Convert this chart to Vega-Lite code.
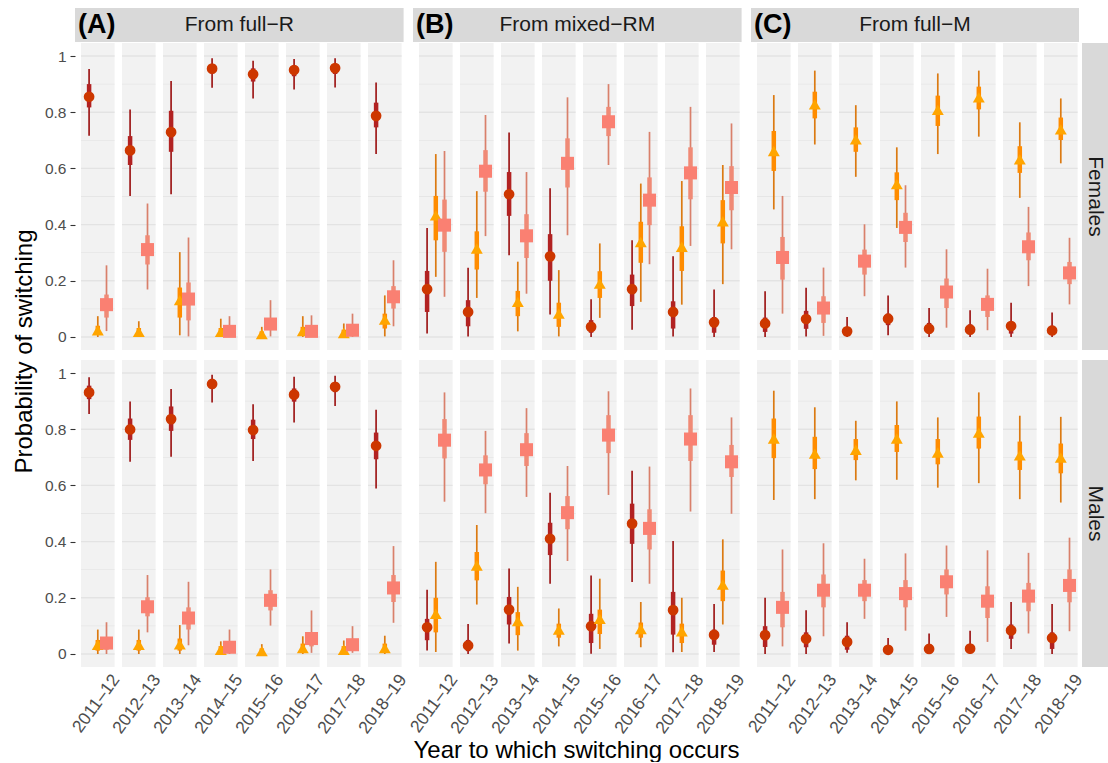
{
"$schema": "https://vega.github.io/schema/vega-lite/v6.json",
"padding": {"left": 12, "top": 8, "right": 0, "bottom": 0},
"background": "white",
"config": {"view": {"stroke": null}, "font": "Liberation Sans"},
"columns": 4,
"align": "each",
"bounds": "flush",
"spacing": {"row": 1, "column": 3},
"datasets": {
"years": [{"yr":"2011–12"},{"yr":"2012–13"},{"yr":"2013–14"},{"yr":"2014–15"},{"yr":"2015–16"},{"yr":"2016–17"},{"yr":"2017–18"},{"yr":"2018–19"}],
"grid": [
{"yr":["2011–12","2012–13","2013–14","2014–15","2015–16","2016–17","2017–18","2018–19"],"g":[0,0.2,0.4,0.6,0.8,1],"k":"maj"},
{"yr":["2011–12","2012–13","2013–14","2014–15","2015–16","2016–17","2017–18","2018–19"],"g":[0.1,0.3,0.5,0.7,0.9],"k":"min"}
],
"pts": [
{"f":"R","s":"F","yr":"2011–12","t":"R","e":0.855,"l1":0.817,"h1":0.900,"l2":0.716,"h2":0.954},
{"f":"R","s":"F","yr":"2011–12","t":"RM","e":0.024,"l1":0.010,"h1":0.040,"l2":0,"h2":0.074},
{"f":"R","s":"F","yr":"2011–12","t":"M","e":0.115,"l1":0.069,"h1":0.151,"l2":0.021,"h2":0.255},
{"f":"R","s":"F","yr":"2012–13","t":"R","e":0.664,"l1":0.612,"h1":0.715,"l2":0.502,"h2":0.810},
{"f":"R","s":"F","yr":"2012–13","t":"RM","e":0.018,"l1":0.007,"h1":0.032,"l2":0,"h2":0.056},
{"f":"R","s":"F","yr":"2012–13","t":"M","e":0.311,"l1":0.258,"h1":0.362,"l2":0.169,"h2":0.475},
{"f":"R","s":"F","yr":"2013–14","t":"R","e":0.729,"l1":0.659,"h1":0.805,"l2":0.508,"h2":0.911},
{"f":"R","s":"F","yr":"2013–14","t":"RM","e":0.131,"l1":0.069,"h1":0.176,"l2":0.006,"h2":0.302},
{"f":"R","s":"F","yr":"2013–14","t":"M","e":0.135,"l1":0.059,"h1":0.194,"l2":0.002,"h2":0.354},
{"f":"R","s":"F","yr":"2014–15","t":"R","e":0.955,"l1":0.938,"h1":0.968,"l2":0.887,"h2":0.992},
{"f":"R","s":"F","yr":"2014–15","t":"RM","e":0.018,"l1":0.007,"h1":0.032,"l2":0,"h2":0.065},
{"f":"R","s":"F","yr":"2014–15","t":"M","e":0.020,"l1":0.008,"h1":0.036,"l2":0,"h2":0.074},
{"f":"R","s":"F","yr":"2015–16","t":"R","e":0.935,"l1":0.909,"h1":0.956,"l2":0.849,"h2":0.983},
{"f":"R","s":"F","yr":"2015–16","t":"RM","e":0.010,"l1":0.003,"h1":0.020,"l2":0,"h2":0.036},
{"f":"R","s":"F","yr":"2015–16","t":"M","e":0.046,"l1":0.026,"h1":0.065,"l2":0.002,"h2":0.131},
{"f":"R","s":"F","yr":"2016–17","t":"R","e":0.950,"l1":0.928,"h1":0.966,"l2":0.881,"h2":0.989},
{"f":"R","s":"F","yr":"2016–17","t":"RM","e":0.021,"l1":0.008,"h1":0.036,"l2":0,"h2":0.074},
{"f":"R","s":"F","yr":"2016–17","t":"M","e":0.020,"l1":0.008,"h1":0.036,"l2":0,"h2":0.077},
{"f":"R","s":"F","yr":"2017–18","t":"R","e":0.957,"l1":0.936,"h1":0.970,"l2":0.888,"h2":0.992},
{"f":"R","s":"F","yr":"2017–18","t":"RM","e":0.014,"l1":0.005,"h1":0.026,"l2":0,"h2":0.048},
{"f":"R","s":"F","yr":"2017–18","t":"M","e":0.024,"l1":0.010,"h1":0.040,"l2":0,"h2":0.083},
{"f":"R","s":"F","yr":"2018–19","t":"R","e":0.787,"l1":0.746,"h1":0.834,"l2":0.651,"h2":0.906},
{"f":"R","s":"F","yr":"2018–19","t":"RM","e":0.062,"l1":0.030,"h1":0.083,"l2":0.002,"h2":0.148},
{"f":"R","s":"F","yr":"2018–19","t":"M","e":0.143,"l1":0.101,"h1":0.181,"l2":0.038,"h2":0.273},
{"f":"RM","s":"F","yr":"2011–12","t":"R","e":0.170,"l1":0.089,"h1":0.235,"l2":0.012,"h2":0.388},
{"f":"RM","s":"F","yr":"2011–12","t":"RM","e":0.433,"l1":0.344,"h1":0.502,"l2":0.214,"h2":0.651},
{"f":"RM","s":"F","yr":"2011–12","t":"M","e":0.398,"l1":0.303,"h1":0.489,"l2":0.143,"h2":0.662},
{"f":"RM","s":"F","yr":"2012–13","t":"R","e":0.089,"l1":0.038,"h1":0.131,"l2":0.002,"h2":0.246},
{"f":"RM","s":"F","yr":"2012–13","t":"RM","e":0.315,"l1":0.240,"h1":0.376,"l2":0.139,"h2":0.519},
{"f":"RM","s":"F","yr":"2012–13","t":"M","e":0.590,"l1":0.517,"h1":0.665,"l2":0.359,"h2":0.790},
{"f":"RM","s":"F","yr":"2013–14","t":"R","e":0.508,"l1":0.431,"h1":0.587,"l2":0.291,"h2":0.728},
{"f":"RM","s":"F","yr":"2013–14","t":"RM","e":0.125,"l1":0.074,"h1":0.164,"l2":0.020,"h2":0.268},
{"f":"RM","s":"F","yr":"2013–14","t":"M","e":0.360,"l1":0.281,"h1":0.437,"l2":0.154,"h2":0.587},
{"f":"RM","s":"F","yr":"2014–15","t":"R","e":0.287,"l1":0.200,"h1":0.366,"l2":0.080,"h2":0.529},
{"f":"RM","s":"F","yr":"2014–15","t":"RM","e":0.083,"l1":0.036,"h1":0.122,"l2":0.002,"h2":0.238},
{"f":"RM","s":"F","yr":"2014–15","t":"M","e":0.618,"l1":0.532,"h1":0.707,"l2":0.362,"h2":0.853},
{"f":"RM","s":"F","yr":"2015–16","t":"R","e":0.036,"l1":0.015,"h1":0.060,"l2":0,"h2":0.134},
{"f":"RM","s":"F","yr":"2015–16","t":"RM","e":0.190,"l1":0.139,"h1":0.234,"l2":0.068,"h2":0.333},
{"f":"RM","s":"F","yr":"2015–16","t":"M","e":0.766,"l1":0.715,"h1":0.819,"l2":0.612,"h2":0.900},
{"f":"RM","s":"F","yr":"2016–17","t":"R","e":0.170,"l1":0.110,"h1":0.222,"l2":0.026,"h2":0.344},
{"f":"RM","s":"F","yr":"2016–17","t":"RM","e":0.338,"l1":0.264,"h1":0.410,"l2":0.125,"h2":0.546},
{"f":"RM","s":"F","yr":"2016–17","t":"M","e":0.487,"l1":0.398,"h1":0.568,"l2":0.259,"h2":0.730},
{"f":"RM","s":"F","yr":"2017–18","t":"R","e":0.089,"l1":0.030,"h1":0.127,"l2":0.002,"h2":0.287},
{"f":"RM","s":"F","yr":"2017–18","t":"RM","e":0.321,"l1":0.235,"h1":0.394,"l2":0.115,"h2":0.555},
{"f":"RM","s":"F","yr":"2017–18","t":"M","e":0.584,"l1":0.490,"h1":0.675,"l2":0.324,"h2":0.819},
{"f":"RM","s":"F","yr":"2018–19","t":"R","e":0.052,"l1":0.015,"h1":0.071,"l2":0,"h2":0.169},
{"f":"RM","s":"F","yr":"2018–19","t":"RM","e":0.412,"l1":0.333,"h1":0.487,"l2":0.188,"h2":0.612},
{"f":"RM","s":"F","yr":"2018–19","t":"M","e":0.532,"l1":0.451,"h1":0.608,"l2":0.312,"h2":0.760},
{"f":"M","s":"F","yr":"2011–12","t":"R","e":0.048,"l1":0.018,"h1":0.069,"l2":0,"h2":0.163},
{"f":"M","s":"F","yr":"2011–12","t":"RM","e":0.662,"l1":0.591,"h1":0.733,"l2":0.454,"h2":0.861},
{"f":"M","s":"F","yr":"2011–12","t":"M","e":0.283,"l1":0.204,"h1":0.356,"l2":0.083,"h2":0.502},
{"f":"M","s":"F","yr":"2012–13","t":"R","e":0.064,"l1":0.029,"h1":0.093,"l2":0.002,"h2":0.175},
{"f":"M","s":"F","yr":"2012–13","t":"RM","e":0.828,"l1":0.778,"h1":0.873,"l2":0.685,"h2":0.948},
{"f":"M","s":"F","yr":"2012–13","t":"M","e":0.103,"l1":0.050,"h1":0.145,"l2":0.004,"h2":0.247},
{"f":"M","s":"F","yr":"2013–14","t":"R","e":0.020,"l1":0.008,"h1":0.035,"l2":0,"h2":0.071},
{"f":"M","s":"F","yr":"2013–14","t":"RM","e":0.703,"l1":0.659,"h1":0.746,"l2":0.570,"h2":0.825},
{"f":"M","s":"F","yr":"2013–14","t":"M","e":0.270,"l1":0.222,"h1":0.311,"l2":0.145,"h2":0.401},
{"f":"M","s":"F","yr":"2014–15","t":"R","e":0.065,"l1":0.042,"h1":0.083,"l2":0.006,"h2":0.148},
{"f":"M","s":"F","yr":"2014–15","t":"RM","e":0.544,"l1":0.487,"h1":0.586,"l2":0.388,"h2":0.675},
{"f":"M","s":"F","yr":"2014–15","t":"M","e":0.390,"l1":0.338,"h1":0.442,"l2":0.247,"h2":0.540},
{"f":"M","s":"F","yr":"2015–16","t":"R","e":0.029,"l1":0.012,"h1":0.050,"l2":0,"h2":0.103},
{"f":"M","s":"F","yr":"2015–16","t":"RM","e":0.808,"l1":0.751,"h1":0.859,"l2":0.651,"h2":0.938},
{"f":"M","s":"F","yr":"2015–16","t":"M","e":0.160,"l1":0.103,"h1":0.208,"l2":0.033,"h2":0.312},
{"f":"M","s":"F","yr":"2016–17","t":"R","e":0.026,"l1":0.010,"h1":0.045,"l2":0,"h2":0.095},
{"f":"M","s":"F","yr":"2016–17","t":"RM","e":0.853,"l1":0.810,"h1":0.891,"l2":0.713,"h2":0.948},
{"f":"M","s":"F","yr":"2016–17","t":"M","e":0.116,"l1":0.071,"h1":0.148,"l2":0.024,"h2":0.243},
{"f":"M","s":"F","yr":"2017–18","t":"R","e":0.039,"l1":0.012,"h1":0.055,"l2":0,"h2":0.122},
{"f":"M","s":"F","yr":"2017–18","t":"RM","e":0.632,"l1":0.584,"h1":0.679,"l2":0.495,"h2":0.764},
{"f":"M","s":"F","yr":"2017–18","t":"M","e":0.321,"l1":0.273,"h1":0.372,"l2":0.181,"h2":0.463},
{"f":"M","s":"F","yr":"2018–19","t":"R","e":0.023,"l1":0.009,"h1":0.040,"l2":0,"h2":0.087},
{"f":"M","s":"F","yr":"2018–19","t":"RM","e":0.739,"l1":0.701,"h1":0.781,"l2":0.618,"h2":0.849},
{"f":"M","s":"F","yr":"2018–19","t":"M","e":0.228,"l1":0.188,"h1":0.267,"l2":0.116,"h2":0.353},
{"f":"R","s":"M","yr":"2011–12","t":"R","e":0.931,"l1":0.907,"h1":0.955,"l2":0.854,"h2":0.985},
{"f":"R","s":"M","yr":"2011–12","t":"RM","e":0.033,"l1":0.012,"h1":0.050,"l2":0,"h2":0.087},
{"f":"R","s":"M","yr":"2011–12","t":"M","e":0.039,"l1":0.015,"h1":0.057,"l2":0,"h2":0.113},
{"f":"R","s":"M","yr":"2012–13","t":"R","e":0.799,"l1":0.762,"h1":0.838,"l2":0.684,"h2":0.899},
{"f":"R","s":"M","yr":"2012–13","t":"RM","e":0.033,"l1":0.012,"h1":0.050,"l2":0,"h2":0.087},
{"f":"R","s":"M","yr":"2012–13","t":"M","e":0.168,"l1":0.134,"h1":0.202,"l2":0.077,"h2":0.281},
{"f":"R","s":"M","yr":"2013–14","t":"R","e":0.836,"l1":0.794,"h1":0.881,"l2":0.702,"h2":0.943},
{"f":"R","s":"M","yr":"2013–14","t":"RM","e":0.034,"l1":0.012,"h1":0.055,"l2":0,"h2":0.103},
{"f":"R","s":"M","yr":"2013–14","t":"M","e":0.128,"l1":0.087,"h1":0.166,"l2":0.031,"h2":0.257},
{"f":"R","s":"M","yr":"2014–15","t":"R","e":0.961,"l1":0.945,"h1":0.975,"l2":0.895,"h2":0.994},
{"f":"R","s":"M","yr":"2014–15","t":"RM","e":0.015,"l1":0.005,"h1":0.028,"l2":0,"h2":0.045},
{"f":"R","s":"M","yr":"2014–15","t":"M","e":0.024,"l1":0.006,"h1":0.045,"l2":0,"h2":0.087},
{"f":"R","s":"M","yr":"2015–16","t":"R","e":0.797,"l1":0.765,"h1":0.834,"l2":0.687,"h2":0.889},
{"f":"R","s":"M","yr":"2015–16","t":"RM","e":0.010,"l1":0.003,"h1":0.020,"l2":0,"h2":0.035},
{"f":"R","s":"M","yr":"2015–16","t":"M","e":0.191,"l1":0.155,"h1":0.227,"l2":0.101,"h2":0.301},
{"f":"R","s":"M","yr":"2016–17","t":"R","e":0.923,"l1":0.898,"h1":0.945,"l2":0.824,"h2":0.987},
{"f":"R","s":"M","yr":"2016–17","t":"RM","e":0.021,"l1":0.008,"h1":0.037,"l2":0,"h2":0.063},
{"f":"R","s":"M","yr":"2016–17","t":"M","e":0.055,"l1":0.027,"h1":0.077,"l2":0.004,"h2":0.155},
{"f":"R","s":"M","yr":"2017–18","t":"R","e":0.951,"l1":0.932,"h1":0.968,"l2":0.883,"h2":0.990},
{"f":"R","s":"M","yr":"2017–18","t":"RM","e":0.015,"l1":0.005,"h1":0.028,"l2":0,"h2":0.048},
{"f":"R","s":"M","yr":"2017–18","t":"M","e":0.033,"l1":0.012,"h1":0.050,"l2":0.004,"h2":0.099},
{"f":"R","s":"M","yr":"2018–19","t":"R","e":0.741,"l1":0.693,"h1":0.788,"l2":0.589,"h2":0.869},
{"f":"R","s":"M","yr":"2018–19","t":"RM","e":0.021,"l1":0.008,"h1":0.037,"l2":0,"h2":0.065},
{"f":"R","s":"M","yr":"2018–19","t":"M","e":0.235,"l1":0.185,"h1":0.281,"l2":0.111,"h2":0.384},
{"f":"RM","s":"M","yr":"2011–12","t":"R","e":0.095,"l1":0.049,"h1":0.125,"l2":0.012,"h2":0.229},
{"f":"RM","s":"M","yr":"2011–12","t":"RM","e":0.143,"l1":0.077,"h1":0.200,"l2":0.007,"h2":0.328},
{"f":"RM","s":"M","yr":"2011–12","t":"M","e":0.761,"l1":0.696,"h1":0.836,"l2":0.542,"h2":0.931},
{"f":"RM","s":"M","yr":"2012–13","t":"R","e":0.030,"l1":0.010,"h1":0.050,"l2":0,"h2":0.107},
{"f":"RM","s":"M","yr":"2012–13","t":"RM","e":0.315,"l1":0.262,"h1":0.363,"l2":0.176,"h2":0.459},
{"f":"RM","s":"M","yr":"2012–13","t":"M","e":0.655,"l1":0.604,"h1":0.707,"l2":0.501,"h2":0.794},
{"f":"RM","s":"M","yr":"2013–14","t":"R","e":0.158,"l1":0.105,"h1":0.203,"l2":0.037,"h2":0.304},
{"f":"RM","s":"M","yr":"2013–14","t":"RM","e":0.117,"l1":0.067,"h1":0.149,"l2":0.012,"h2":0.239},
{"f":"RM","s":"M","yr":"2013–14","t":"M","e":0.727,"l1":0.669,"h1":0.786,"l2":0.559,"h2":0.875},
{"f":"RM","s":"M","yr":"2014–15","t":"R","e":0.410,"l1":0.352,"h1":0.467,"l2":0.250,"h2":0.574},
{"f":"RM","s":"M","yr":"2014–15","t":"RM","e":0.087,"l1":0.058,"h1":0.108,"l2":0.027,"h2":0.162},
{"f":"RM","s":"M","yr":"2014–15","t":"M","e":0.503,"l1":0.444,"h1":0.562,"l2":0.331,"h2":0.669},
{"f":"RM","s":"M","yr":"2015–16","t":"R","e":0.099,"l1":0.039,"h1":0.143,"l2":0.001,"h2":0.279},
{"f":"RM","s":"M","yr":"2015–16","t":"RM","e":0.125,"l1":0.071,"h1":0.158,"l2":0.018,"h2":0.268},
{"f":"RM","s":"M","yr":"2015–16","t":"M","e":0.779,"l1":0.715,"h1":0.850,"l2":0.566,"h2":0.935},
{"f":"RM","s":"M","yr":"2016–17","t":"R","e":0.464,"l1":0.392,"h1":0.535,"l2":0.256,"h2":0.652},
{"f":"RM","s":"M","yr":"2016–17","t":"RM","e":0.089,"l1":0.058,"h1":0.112,"l2":0.024,"h2":0.185},
{"f":"RM","s":"M","yr":"2016–17","t":"M","e":0.447,"l1":0.372,"h1":0.515,"l2":0.250,"h2":0.667},
{"f":"RM","s":"M","yr":"2017–18","t":"R","e":0.156,"l1":0.069,"h1":0.221,"l2":0.006,"h2":0.402},
{"f":"RM","s":"M","yr":"2017–18","t":"RM","e":0.081,"l1":0.039,"h1":0.108,"l2":0.007,"h2":0.200},
{"f":"RM","s":"M","yr":"2017–18","t":"M","e":0.765,"l1":0.687,"h1":0.850,"l2":0.507,"h2":0.945},
{"f":"RM","s":"M","yr":"2018–19","t":"R","e":0.068,"l1":0.033,"h1":0.087,"l2":0.007,"h2":0.178},
{"f":"RM","s":"M","yr":"2018–19","t":"RM","e":0.247,"l1":0.188,"h1":0.297,"l2":0.105,"h2":0.408},
{"f":"RM","s":"M","yr":"2018–19","t":"M","e":0.684,"l1":0.630,"h1":0.744,"l2":0.499,"h2":0.842},
{"f":"M","s":"M","yr":"2011–12","t":"R","e":0.067,"l1":0.025,"h1":0.099,"l2":0,"h2":0.200},
{"f":"M","s":"M","yr":"2011–12","t":"RM","e":0.767,"l1":0.697,"h1":0.838,"l2":0.548,"h2":0.937},
{"f":"M","s":"M","yr":"2011–12","t":"M","e":0.166,"l1":0.095,"h1":0.221,"l2":0.027,"h2":0.372},
{"f":"M","s":"M","yr":"2012–13","t":"R","e":0.054,"l1":0.024,"h1":0.077,"l2":0,"h2":0.156},
{"f":"M","s":"M","yr":"2012–13","t":"RM","e":0.713,"l1":0.658,"h1":0.773,"l2":0.551,"h2":0.878},
{"f":"M","s":"M","yr":"2012–13","t":"M","e":0.227,"l1":0.166,"h1":0.283,"l2":0.063,"h2":0.394},
{"f":"M","s":"M","yr":"2013–14","t":"R","e":0.043,"l1":0.015,"h1":0.065,"l2":0.004,"h2":0.113},
{"f":"M","s":"M","yr":"2013–14","t":"RM","e":0.727,"l1":0.690,"h1":0.765,"l2":0.618,"h2":0.830},
{"f":"M","s":"M","yr":"2013–14","t":"M","e":0.227,"l1":0.188,"h1":0.263,"l2":0.125,"h2":0.339},
{"f":"M","s":"M","yr":"2014–15","t":"R","e":0.015,"l1":0.005,"h1":0.030,"l2":0,"h2":0.057},
{"f":"M","s":"M","yr":"2014–15","t":"RM","e":0.767,"l1":0.719,"h1":0.815,"l2":0.620,"h2":0.899},
{"f":"M","s":"M","yr":"2014–15","t":"M","e":0.215,"l1":0.166,"h1":0.263,"l2":0.083,"h2":0.358},
{"f":"M","s":"M","yr":"2015–16","t":"R","e":0.018,"l1":0.006,"h1":0.035,"l2":0,"h2":0.073},
{"f":"M","s":"M","yr":"2015–16","t":"RM","e":0.717,"l1":0.675,"h1":0.765,"l2":0.592,"h2":0.842},
{"f":"M","s":"M","yr":"2015–16","t":"M","e":0.257,"l1":0.212,"h1":0.301,"l2":0.132,"h2":0.386},
{"f":"M","s":"M","yr":"2016–17","t":"R","e":0.019,"l1":0.006,"h1":0.035,"l2":0,"h2":0.083},
{"f":"M","s":"M","yr":"2016–17","t":"RM","e":0.788,"l1":0.731,"h1":0.845,"l2":0.608,"h2":0.931},
{"f":"M","s":"M","yr":"2016–17","t":"M","e":0.188,"l1":0.128,"h1":0.241,"l2":0.043,"h2":0.369},
{"f":"M","s":"M","yr":"2017–18","t":"R","e":0.084,"l1":0.054,"h1":0.105,"l2":0.018,"h2":0.185},
{"f":"M","s":"M","yr":"2017–18","t":"RM","e":0.707,"l1":0.655,"h1":0.756,"l2":0.551,"h2":0.848},
{"f":"M","s":"M","yr":"2017–18","t":"M","e":0.206,"l1":0.152,"h1":0.253,"l2":0.073,"h2":0.360},
{"f":"M","s":"M","yr":"2018–19","t":"R","e":0.057,"l1":0.018,"h1":0.077,"l2":0,"h2":0.178},
{"f":"M","s":"M","yr":"2018–19","t":"RM","e":0.699,"l1":0.643,"h1":0.749,"l2":0.539,"h2":0.844},
{"f":"M","s":"M","yr":"2018–19","t":"M","e":0.244,"l1":0.184,"h1":0.301,"l2":0.081,"h2":0.414}
]
},
"concat": [
{"width": 328.6, "height": 34, "view": {"fill": "#D9D9D9", "stroke": null},
 "data": {"values": [{"lab": "(A)", "nm": "From full−R"}]},
 "layer": [
  {"mark": {"type": "text", "fontSize": 21, "color": "#1A1A1A", "align": "center", "baseline": "middle"},
   "encoding": {"text": {"field": "nm", "type": "nominal"}, "x": {"datum": 0.5, "type": "quantitative", "scale": {"domain": [0, 1]}, "axis": null}}},
  {"mark": {"type": "text", "fontSize": 27, "fontWeight": "bold", "color": "#000000", "align": "left", "baseline": "middle", "dx": 3},
   "encoding": {"text": {"field": "lab", "type": "nominal"}, "x": {"datum": 0, "type": "quantitative", "scale": {"domain": [0, 1]}, "axis": null}}}
 ]},
{"width": 328.6, "height": 34, "view": {"fill": "#D9D9D9", "stroke": null},
 "data": {"values": [{"lab": "(B)", "nm": "From mixed−RM"}]},
 "layer": [
  {"mark": {"type": "text", "fontSize": 21, "color": "#1A1A1A", "align": "center", "baseline": "middle"},
   "encoding": {"text": {"field": "nm", "type": "nominal"}, "x": {"datum": 0.5, "type": "quantitative", "scale": {"domain": [0, 1]}, "axis": null}}},
  {"mark": {"type": "text", "fontSize": 27, "fontWeight": "bold", "color": "#000000", "align": "left", "baseline": "middle", "dx": 3},
   "encoding": {"text": {"field": "lab", "type": "nominal"}, "x": {"datum": 0, "type": "quantitative", "scale": {"domain": [0, 1]}, "axis": null}}}
 ]},
{"width": 328, "height": 34, "view": {"fill": "#D9D9D9", "stroke": null},
 "data": {"values": [{"lab": "(C)", "nm": "From full−M"}]},
 "layer": [
  {"mark": {"type": "text", "fontSize": 21, "color": "#1A1A1A", "align": "center", "baseline": "middle"},
   "encoding": {"text": {"field": "nm", "type": "nominal"}, "x": {"datum": 0.5, "type": "quantitative", "scale": {"domain": [0, 1]}, "axis": null}}},
  {"mark": {"type": "text", "fontSize": 27, "fontWeight": "bold", "color": "#000000", "align": "left", "baseline": "middle", "dx": 3},
   "encoding": {"text": {"field": "lab", "type": "nominal"}, "x": {"datum": 0, "type": "quantitative", "scale": {"domain": [0, 1]}, "axis": null}}}
 ]},
{"width": 26, "height": 34, "view": {"stroke": null}, "data": {"values": [{}]}, "mark": {"type": "text"}, "encoding": {"text": {"value": ""}}},

{"width": 334.6, "height": 316,
 "encoding": {"x": {"field": "yr", "type": "nominal", "scale": {"paddingInner": 0.1805, "paddingOuter": 0.1707, "align": 0.4286}, "axis": null}},
 "layer": [
  {"data": {"name": "years"}, "mark": {"type": "rect", "color": "#F2F2F2"},
   "encoding": {"y": {"datum": -0.0463, "type": "quantitative", "scale": {"domain": [-0.0784, 1.0463], "nice": false, "zero": false},
     "axis": {"values": [0, 0.2, 0.4, 0.6, 0.8, 1], "format": "~g", "grid": false, "domain": false, "tickSize": 5, "tickColor": "#333333", "tickWidth": 1.1, "labelFontSize": 15.5, "labelColor": "#4D4D4D", "labelPadding": 4, "title": "Probability of switching", "titleFontSize": 24, "titleFontWeight": "normal", "titleColor": "#000000", "titlePadding": 8, "titleY": 308}}, "y2": {"datum": 1.0463}}},
  {"data": {"name": "grid"}, "transform": [{"flatten": ["yr"]}, {"flatten": ["g"]}, {"filter": "datum.k == 'min'"}],
   "mark": {"type": "tick", "orient": "horizontal", "color": "#E6E6E6", "thickness": 0.8, "size": 33.6, "opacity": 1},
   "encoding": {"y": {"field": "g", "type": "quantitative", "scale": {"domain": [-0.0784, 1.0463], "nice": false, "zero": false},
     "axis": {"values": [0, 0.2, 0.4, 0.6, 0.8, 1], "format": "~g", "grid": false, "domain": false, "tickSize": 5, "tickColor": "#333333", "tickWidth": 1.1, "labelFontSize": 15.5, "labelColor": "#4D4D4D", "labelPadding": 4, "title": "Probability of switching", "titleFontSize": 24, "titleFontWeight": "normal", "titleColor": "#000000", "titlePadding": 8, "titleY": 308}}}},
  {"data": {"name": "grid"}, "transform": [{"flatten": ["yr"]}, {"flatten": ["g"]}, {"filter": "datum.k == 'maj'"}],
   "mark": {"type": "tick", "orient": "horizontal", "color": "#E3E3E3", "thickness": 1.4, "size": 33.6, "opacity": 1},
   "encoding": {"y": {"field": "g", "type": "quantitative", "scale": {"domain": [-0.0784, 1.0463], "nice": false, "zero": false},
     "axis": {"values": [0, 0.2, 0.4, 0.6, 0.8, 1], "format": "~g", "grid": false, "domain": false, "tickSize": 5, "tickColor": "#333333", "tickWidth": 1.1, "labelFontSize": 15.5, "labelColor": "#4D4D4D", "labelPadding": 4, "title": "Probability of switching", "titleFontSize": 24, "titleFontWeight": "normal", "titleColor": "#000000", "titlePadding": 8, "titleY": 308}}}},
  {"data": {"name": "pts"}, "transform": [{"filter": "datum.f == 'R' && datum.s == 'F'"}],
   "mark": {"type": "rule", "strokeWidth": 1.7},
   "encoding": {"xOffset": {"field": "t", "type": "nominal", "scale": {"domain": ["R", "RM", "M"], "paddingOuter": 0.43, "paddingInner": 0}},
    "y": {"field": "l2", "type": "quantitative", "scale": {"domain": [-0.0784, 1.0463], "nice": false, "zero": false},
     "axis": {"values": [0, 0.2, 0.4, 0.6, 0.8, 1], "format": "~g", "grid": false, "domain": false, "tickSize": 5, "tickColor": "#333333", "tickWidth": 1.1, "labelFontSize": 15.5, "labelColor": "#4D4D4D", "labelPadding": 4, "title": "Probability of switching", "titleFontSize": 24, "titleFontWeight": "normal", "titleColor": "#000000", "titlePadding": 8, "titleY": 308}}, "y2": {"field": "h2"},
    "color": {"field": "t", "type": "nominal", "scale": {"domain": ["R", "RM", "M"], "range": ["#9E1A1A", "#DB7A12", "#D9806B"]}, "legend": null}}},
  {"data": {"name": "pts"}, "transform": [{"filter": "datum.f == 'R' && datum.s == 'F'"}],
   "mark": {"type": "rule", "strokeWidth": 4.5},
   "encoding": {"xOffset": {"field": "t", "type": "nominal", "scale": {"domain": ["R", "RM", "M"], "paddingOuter": 0.43, "paddingInner": 0}},
    "y": {"field": "l1", "type": "quantitative", "scale": {"domain": [-0.0784, 1.0463], "nice": false, "zero": false},
     "axis": {"values": [0, 0.2, 0.4, 0.6, 0.8, 1], "format": "~g", "grid": false, "domain": false, "tickSize": 5, "tickColor": "#333333", "tickWidth": 1.1, "labelFontSize": 15.5, "labelColor": "#4D4D4D", "labelPadding": 4, "title": "Probability of switching", "titleFontSize": 24, "titleFontWeight": "normal", "titleColor": "#000000", "titlePadding": 8, "titleY": 308}}, "y2": {"field": "h1"},
    "color": {"field": "t", "type": "nominal", "scale": {"domain": ["R", "RM", "M"], "range": ["#B22222", "#FF8C00", "#F08A76"]}, "legend": null}}},
  {"data": {"name": "pts"}, "transform": [{"filter": "datum.f == 'R' && datum.s == 'F'"}],
   "mark": {"type": "point", "filled": true, "opacity": 1, "strokeWidth": 0},
   "encoding": {"xOffset": {"field": "t", "type": "nominal", "scale": {"domain": ["R", "RM", "M"], "paddingOuter": 0.43, "paddingInner": 0}},
    "y": {"field": "e", "type": "quantitative", "scale": {"domain": [-0.0784, 1.0463], "nice": false, "zero": false},
     "axis": {"values": [0, 0.2, 0.4, 0.6, 0.8, 1], "format": "~g", "grid": false, "domain": false, "tickSize": 5, "tickColor": "#333333", "tickWidth": 1.1, "labelFontSize": 15.5, "labelColor": "#4D4D4D", "labelPadding": 4, "title": "Probability of switching", "titleFontSize": 24, "titleFontWeight": "normal", "titleColor": "#000000", "titlePadding": 8, "titleY": 308}},
    "color": {"field": "t", "type": "nominal", "scale": {"domain": ["R", "RM", "M"], "range": ["#CD3700", "#FFA500", "#FA8072"]}, "legend": null},
    "shape": {"field": "t", "type": "nominal", "scale": {"domain": ["R", "RM", "M"], "range": ["circle", "triangle-up", "square"]}, "legend": null},
    "size": {"field": "t", "type": "nominal", "scale": {"domain": ["R", "RM", "M"], "range": [115, 170, 125]}, "legend": null}}}
 ],
 "resolve": {"scale": {"color": "independent"}}},

{"width": 334.6, "height": 316,
 "encoding": {"x": {"field": "yr", "type": "nominal", "scale": {"paddingInner": 0.1805, "paddingOuter": 0.1707, "align": 0.4286}, "axis": null}},
 "layer": [
  {"data": {"name": "years"}, "mark": {"type": "rect", "color": "#F2F2F2"},
   "encoding": {"y": {"datum": -0.0463, "type": "quantitative", "scale": {"domain": [-0.0784, 1.0463], "nice": false, "zero": false}, "axis": null}, "y2": {"datum": 1.0463}}},
  {"data": {"name": "grid"}, "transform": [{"flatten": ["yr"]}, {"flatten": ["g"]}, {"filter": "datum.k == 'min'"}],
   "mark": {"type": "tick", "orient": "horizontal", "color": "#E6E6E6", "thickness": 0.8, "size": 33.6, "opacity": 1},
   "encoding": {"y": {"field": "g", "type": "quantitative", "scale": {"domain": [-0.0784, 1.0463], "nice": false, "zero": false}, "axis": null}}},
  {"data": {"name": "grid"}, "transform": [{"flatten": ["yr"]}, {"flatten": ["g"]}, {"filter": "datum.k == 'maj'"}],
   "mark": {"type": "tick", "orient": "horizontal", "color": "#E3E3E3", "thickness": 1.4, "size": 33.6, "opacity": 1},
   "encoding": {"y": {"field": "g", "type": "quantitative", "scale": {"domain": [-0.0784, 1.0463], "nice": false, "zero": false}, "axis": null}}},
  {"data": {"name": "pts"}, "transform": [{"filter": "datum.f == 'RM' && datum.s == 'F'"}],
   "mark": {"type": "rule", "strokeWidth": 1.7},
   "encoding": {"xOffset": {"field": "t", "type": "nominal", "scale": {"domain": ["R", "RM", "M"], "paddingOuter": 0.43, "paddingInner": 0}},
    "y": {"field": "l2", "type": "quantitative", "scale": {"domain": [-0.0784, 1.0463], "nice": false, "zero": false}, "axis": null}, "y2": {"field": "h2"},
    "color": {"field": "t", "type": "nominal", "scale": {"domain": ["R", "RM", "M"], "range": ["#9E1A1A", "#DB7A12", "#D9806B"]}, "legend": null}}},
  {"data": {"name": "pts"}, "transform": [{"filter": "datum.f == 'RM' && datum.s == 'F'"}],
   "mark": {"type": "rule", "strokeWidth": 4.5},
   "encoding": {"xOffset": {"field": "t", "type": "nominal", "scale": {"domain": ["R", "RM", "M"], "paddingOuter": 0.43, "paddingInner": 0}},
    "y": {"field": "l1", "type": "quantitative", "scale": {"domain": [-0.0784, 1.0463], "nice": false, "zero": false}, "axis": null}, "y2": {"field": "h1"},
    "color": {"field": "t", "type": "nominal", "scale": {"domain": ["R", "RM", "M"], "range": ["#B22222", "#FF8C00", "#F08A76"]}, "legend": null}}},
  {"data": {"name": "pts"}, "transform": [{"filter": "datum.f == 'RM' && datum.s == 'F'"}],
   "mark": {"type": "point", "filled": true, "opacity": 1, "strokeWidth": 0},
   "encoding": {"xOffset": {"field": "t", "type": "nominal", "scale": {"domain": ["R", "RM", "M"], "paddingOuter": 0.43, "paddingInner": 0}},
    "y": {"field": "e", "type": "quantitative", "scale": {"domain": [-0.0784, 1.0463], "nice": false, "zero": false}, "axis": null},
    "color": {"field": "t", "type": "nominal", "scale": {"domain": ["R", "RM", "M"], "range": ["#CD3700", "#FFA500", "#FA8072"]}, "legend": null},
    "shape": {"field": "t", "type": "nominal", "scale": {"domain": ["R", "RM", "M"], "range": ["circle", "triangle-up", "square"]}, "legend": null},
    "size": {"field": "t", "type": "nominal", "scale": {"domain": ["R", "RM", "M"], "range": [115, 170, 125]}, "legend": null}}}
 ],
 "resolve": {"scale": {"color": "independent"}}},

{"width": 326.6, "height": 316,
 "encoding": {"x": {"field": "yr", "type": "nominal", "scale": {"paddingInner": 0.1805, "paddingOuter": 0.0732, "align": 1}, "axis": null}},
 "layer": [
  {"data": {"name": "years"}, "mark": {"type": "rect", "color": "#F2F2F2"},
   "encoding": {"y": {"datum": -0.0463, "type": "quantitative", "scale": {"domain": [-0.0784, 1.0463], "nice": false, "zero": false}, "axis": null}, "y2": {"datum": 1.0463}}},
  {"data": {"name": "grid"}, "transform": [{"flatten": ["yr"]}, {"flatten": ["g"]}, {"filter": "datum.k == 'min'"}],
   "mark": {"type": "tick", "orient": "horizontal", "color": "#E6E6E6", "thickness": 0.8, "size": 33.6, "opacity": 1},
   "encoding": {"y": {"field": "g", "type": "quantitative", "scale": {"domain": [-0.0784, 1.0463], "nice": false, "zero": false}, "axis": null}}},
  {"data": {"name": "grid"}, "transform": [{"flatten": ["yr"]}, {"flatten": ["g"]}, {"filter": "datum.k == 'maj'"}],
   "mark": {"type": "tick", "orient": "horizontal", "color": "#E3E3E3", "thickness": 1.4, "size": 33.6, "opacity": 1},
   "encoding": {"y": {"field": "g", "type": "quantitative", "scale": {"domain": [-0.0784, 1.0463], "nice": false, "zero": false}, "axis": null}}},
  {"data": {"name": "pts"}, "transform": [{"filter": "datum.f == 'M' && datum.s == 'F'"}],
   "mark": {"type": "rule", "strokeWidth": 1.7},
   "encoding": {"xOffset": {"field": "t", "type": "nominal", "scale": {"domain": ["R", "RM", "M"], "paddingOuter": 0.43, "paddingInner": 0}},
    "y": {"field": "l2", "type": "quantitative", "scale": {"domain": [-0.0784, 1.0463], "nice": false, "zero": false}, "axis": null}, "y2": {"field": "h2"},
    "color": {"field": "t", "type": "nominal", "scale": {"domain": ["R", "RM", "M"], "range": ["#9E1A1A", "#DB7A12", "#D9806B"]}, "legend": null}}},
  {"data": {"name": "pts"}, "transform": [{"filter": "datum.f == 'M' && datum.s == 'F'"}],
   "mark": {"type": "rule", "strokeWidth": 4.5},
   "encoding": {"xOffset": {"field": "t", "type": "nominal", "scale": {"domain": ["R", "RM", "M"], "paddingOuter": 0.43, "paddingInner": 0}},
    "y": {"field": "l1", "type": "quantitative", "scale": {"domain": [-0.0784, 1.0463], "nice": false, "zero": false}, "axis": null}, "y2": {"field": "h1"},
    "color": {"field": "t", "type": "nominal", "scale": {"domain": ["R", "RM", "M"], "range": ["#B22222", "#FF8C00", "#F08A76"]}, "legend": null}}},
  {"data": {"name": "pts"}, "transform": [{"filter": "datum.f == 'M' && datum.s == 'F'"}],
   "mark": {"type": "point", "filled": true, "opacity": 1, "strokeWidth": 0},
   "encoding": {"xOffset": {"field": "t", "type": "nominal", "scale": {"domain": ["R", "RM", "M"], "paddingOuter": 0.43, "paddingInner": 0}},
    "y": {"field": "e", "type": "quantitative", "scale": {"domain": [-0.0784, 1.0463], "nice": false, "zero": false}, "axis": null},
    "color": {"field": "t", "type": "nominal", "scale": {"domain": ["R", "RM", "M"], "range": ["#CD3700", "#FFA500", "#FA8072"]}, "legend": null},
    "shape": {"field": "t", "type": "nominal", "scale": {"domain": ["R", "RM", "M"], "range": ["circle", "triangle-up", "square"]}, "legend": null},
    "size": {"field": "t", "type": "nominal", "scale": {"domain": ["R", "RM", "M"], "range": [115, 170, 125]}, "legend": null}}}
 ],
 "resolve": {"scale": {"color": "independent"}}},

{"width": 26, "height": 307, "view": {"fill": "#D9D9D9", "stroke": null},
 "data": {"values": [{"lab": "Females"}]},
 "mark": {"type": "text", "angle": 90, "fontSize": 21, "color": "#1A1A1A", "align": "center", "baseline": "middle"},
 "encoding": {"text": {"field": "lab", "type": "nominal"}}},

{"width": 334.6, "height": 307,
 "encoding": {"x": {"field": "yr", "type": "nominal", "scale": {"paddingInner": 0.1805, "paddingOuter": 0.1707, "align": 0.4286},
   "axis": {"title": null, "labelAngle": -54, "labelAlign": "right", "labelBaseline": "top", "labelFontSize": 17.5, "labelColor": "#4D4D4D", "ticks": false, "domain": false, "grid": false, "labelPadding": 4, "labelOffset": 11, "labelOverlap": false}}},
 "layer": [
  {"data": {"name": "years"}, "mark": {"type": "rect", "color": "#F2F2F2"},
   "encoding": {"y": {"datum": -0.0463, "type": "quantitative", "scale": {"domain": [-0.0463, 1.0463], "nice": false, "zero": false},
     "axis": {"values": [0, 0.2, 0.4, 0.6, 0.8, 1], "format": "~g", "grid": false, "domain": false, "tickSize": 5, "tickColor": "#333333", "tickWidth": 1.1, "labelFontSize": 15.5, "labelColor": "#4D4D4D", "labelPadding": 4, "title": null}}, "y2": {"datum": 1.0463}}},
  {"data": {"name": "grid"}, "transform": [{"flatten": ["yr"]}, {"flatten": ["g"]}, {"filter": "datum.k == 'min'"}],
   "mark": {"type": "tick", "orient": "horizontal", "color": "#E6E6E6", "thickness": 0.8, "size": 33.6, "opacity": 1},
   "encoding": {"y": {"field": "g", "type": "quantitative", "scale": {"domain": [-0.0463, 1.0463], "nice": false, "zero": false},
     "axis": {"values": [0, 0.2, 0.4, 0.6, 0.8, 1], "format": "~g", "grid": false, "domain": false, "tickSize": 5, "tickColor": "#333333", "tickWidth": 1.1, "labelFontSize": 15.5, "labelColor": "#4D4D4D", "labelPadding": 4, "title": null}}}},
  {"data": {"name": "grid"}, "transform": [{"flatten": ["yr"]}, {"flatten": ["g"]}, {"filter": "datum.k == 'maj'"}],
   "mark": {"type": "tick", "orient": "horizontal", "color": "#E3E3E3", "thickness": 1.4, "size": 33.6, "opacity": 1},
   "encoding": {"y": {"field": "g", "type": "quantitative", "scale": {"domain": [-0.0463, 1.0463], "nice": false, "zero": false},
     "axis": {"values": [0, 0.2, 0.4, 0.6, 0.8, 1], "format": "~g", "grid": false, "domain": false, "tickSize": 5, "tickColor": "#333333", "tickWidth": 1.1, "labelFontSize": 15.5, "labelColor": "#4D4D4D", "labelPadding": 4, "title": null}}}},
  {"data": {"name": "pts"}, "transform": [{"filter": "datum.f == 'R' && datum.s == 'M'"}],
   "mark": {"type": "rule", "strokeWidth": 1.7},
   "encoding": {"xOffset": {"field": "t", "type": "nominal", "scale": {"domain": ["R", "RM", "M"], "paddingOuter": 0.43, "paddingInner": 0}},
    "y": {"field": "l2", "type": "quantitative", "scale": {"domain": [-0.0463, 1.0463], "nice": false, "zero": false},
     "axis": {"values": [0, 0.2, 0.4, 0.6, 0.8, 1], "format": "~g", "grid": false, "domain": false, "tickSize": 5, "tickColor": "#333333", "tickWidth": 1.1, "labelFontSize": 15.5, "labelColor": "#4D4D4D", "labelPadding": 4, "title": null}}, "y2": {"field": "h2"},
    "color": {"field": "t", "type": "nominal", "scale": {"domain": ["R", "RM", "M"], "range": ["#9E1A1A", "#DB7A12", "#D9806B"]}, "legend": null}}},
  {"data": {"name": "pts"}, "transform": [{"filter": "datum.f == 'R' && datum.s == 'M'"}],
   "mark": {"type": "rule", "strokeWidth": 4.5},
   "encoding": {"xOffset": {"field": "t", "type": "nominal", "scale": {"domain": ["R", "RM", "M"], "paddingOuter": 0.43, "paddingInner": 0}},
    "y": {"field": "l1", "type": "quantitative", "scale": {"domain": [-0.0463, 1.0463], "nice": false, "zero": false},
     "axis": {"values": [0, 0.2, 0.4, 0.6, 0.8, 1], "format": "~g", "grid": false, "domain": false, "tickSize": 5, "tickColor": "#333333", "tickWidth": 1.1, "labelFontSize": 15.5, "labelColor": "#4D4D4D", "labelPadding": 4, "title": null}}, "y2": {"field": "h1"},
    "color": {"field": "t", "type": "nominal", "scale": {"domain": ["R", "RM", "M"], "range": ["#B22222", "#FF8C00", "#F08A76"]}, "legend": null}}},
  {"data": {"name": "pts"}, "transform": [{"filter": "datum.f == 'R' && datum.s == 'M'"}],
   "mark": {"type": "point", "filled": true, "opacity": 1, "strokeWidth": 0},
   "encoding": {"xOffset": {"field": "t", "type": "nominal", "scale": {"domain": ["R", "RM", "M"], "paddingOuter": 0.43, "paddingInner": 0}},
    "y": {"field": "e", "type": "quantitative", "scale": {"domain": [-0.0463, 1.0463], "nice": false, "zero": false},
     "axis": {"values": [0, 0.2, 0.4, 0.6, 0.8, 1], "format": "~g", "grid": false, "domain": false, "tickSize": 5, "tickColor": "#333333", "tickWidth": 1.1, "labelFontSize": 15.5, "labelColor": "#4D4D4D", "labelPadding": 4, "title": null}},
    "color": {"field": "t", "type": "nominal", "scale": {"domain": ["R", "RM", "M"], "range": ["#CD3700", "#FFA500", "#FA8072"]}, "legend": null},
    "shape": {"field": "t", "type": "nominal", "scale": {"domain": ["R", "RM", "M"], "range": ["circle", "triangle-up", "square"]}, "legend": null},
    "size": {"field": "t", "type": "nominal", "scale": {"domain": ["R", "RM", "M"], "range": [115, 170, 125]}, "legend": null}}}
 ],
 "resolve": {"scale": {"color": "independent"}}},

{"width": 334.6, "height": 307,
 "encoding": {"x": {"field": "yr", "type": "nominal", "scale": {"paddingInner": 0.1805, "paddingOuter": 0.1707, "align": 0.4286},
   "axis": {"title": "Year to which switching occurs", "titleFontSize": 24, "titleFontWeight": "normal", "titleColor": "#000000", "titleBaseline": "top", "titleY": 71, "titleX": 163, "labelAngle": -54, "labelAlign": "right", "labelBaseline": "top", "labelFontSize": 17.5, "labelColor": "#4D4D4D", "ticks": false, "domain": false, "grid": false, "labelPadding": 4, "labelOffset": 11, "labelOverlap": false}}},
 "layer": [
  {"data": {"name": "years"}, "mark": {"type": "rect", "color": "#F2F2F2"},
   "encoding": {"y": {"datum": -0.0463, "type": "quantitative", "scale": {"domain": [-0.0463, 1.0463], "nice": false, "zero": false}, "axis": null}, "y2": {"datum": 1.0463}}},
  {"data": {"name": "grid"}, "transform": [{"flatten": ["yr"]}, {"flatten": ["g"]}, {"filter": "datum.k == 'min'"}],
   "mark": {"type": "tick", "orient": "horizontal", "color": "#E6E6E6", "thickness": 0.8, "size": 33.6, "opacity": 1},
   "encoding": {"y": {"field": "g", "type": "quantitative", "scale": {"domain": [-0.0463, 1.0463], "nice": false, "zero": false}, "axis": null}}},
  {"data": {"name": "grid"}, "transform": [{"flatten": ["yr"]}, {"flatten": ["g"]}, {"filter": "datum.k == 'maj'"}],
   "mark": {"type": "tick", "orient": "horizontal", "color": "#E3E3E3", "thickness": 1.4, "size": 33.6, "opacity": 1},
   "encoding": {"y": {"field": "g", "type": "quantitative", "scale": {"domain": [-0.0463, 1.0463], "nice": false, "zero": false}, "axis": null}}},
  {"data": {"name": "pts"}, "transform": [{"filter": "datum.f == 'RM' && datum.s == 'M'"}],
   "mark": {"type": "rule", "strokeWidth": 1.7},
   "encoding": {"xOffset": {"field": "t", "type": "nominal", "scale": {"domain": ["R", "RM", "M"], "paddingOuter": 0.43, "paddingInner": 0}},
    "y": {"field": "l2", "type": "quantitative", "scale": {"domain": [-0.0463, 1.0463], "nice": false, "zero": false}, "axis": null}, "y2": {"field": "h2"},
    "color": {"field": "t", "type": "nominal", "scale": {"domain": ["R", "RM", "M"], "range": ["#9E1A1A", "#DB7A12", "#D9806B"]}, "legend": null}}},
  {"data": {"name": "pts"}, "transform": [{"filter": "datum.f == 'RM' && datum.s == 'M'"}],
   "mark": {"type": "rule", "strokeWidth": 4.5},
   "encoding": {"xOffset": {"field": "t", "type": "nominal", "scale": {"domain": ["R", "RM", "M"], "paddingOuter": 0.43, "paddingInner": 0}},
    "y": {"field": "l1", "type": "quantitative", "scale": {"domain": [-0.0463, 1.0463], "nice": false, "zero": false}, "axis": null}, "y2": {"field": "h1"},
    "color": {"field": "t", "type": "nominal", "scale": {"domain": ["R", "RM", "M"], "range": ["#B22222", "#FF8C00", "#F08A76"]}, "legend": null}}},
  {"data": {"name": "pts"}, "transform": [{"filter": "datum.f == 'RM' && datum.s == 'M'"}],
   "mark": {"type": "point", "filled": true, "opacity": 1, "strokeWidth": 0},
   "encoding": {"xOffset": {"field": "t", "type": "nominal", "scale": {"domain": ["R", "RM", "M"], "paddingOuter": 0.43, "paddingInner": 0}},
    "y": {"field": "e", "type": "quantitative", "scale": {"domain": [-0.0463, 1.0463], "nice": false, "zero": false}, "axis": null},
    "color": {"field": "t", "type": "nominal", "scale": {"domain": ["R", "RM", "M"], "range": ["#CD3700", "#FFA500", "#FA8072"]}, "legend": null},
    "shape": {"field": "t", "type": "nominal", "scale": {"domain": ["R", "RM", "M"], "range": ["circle", "triangle-up", "square"]}, "legend": null},
    "size": {"field": "t", "type": "nominal", "scale": {"domain": ["R", "RM", "M"], "range": [115, 170, 125]}, "legend": null}}}
 ],
 "resolve": {"scale": {"color": "independent"}}},

{"width": 326.6, "height": 307,
 "encoding": {"x": {"field": "yr", "type": "nominal", "scale": {"paddingInner": 0.1805, "paddingOuter": 0.0732, "align": 1},
   "axis": {"title": null, "labelAngle": -54, "labelAlign": "right", "labelBaseline": "top", "labelFontSize": 17.5, "labelColor": "#4D4D4D", "ticks": false, "domain": false, "grid": false, "labelPadding": 4, "labelOffset": 11, "labelOverlap": false}}},
 "layer": [
  {"data": {"name": "years"}, "mark": {"type": "rect", "color": "#F2F2F2"},
   "encoding": {"y": {"datum": -0.0463, "type": "quantitative", "scale": {"domain": [-0.0463, 1.0463], "nice": false, "zero": false}, "axis": null}, "y2": {"datum": 1.0463}}},
  {"data": {"name": "grid"}, "transform": [{"flatten": ["yr"]}, {"flatten": ["g"]}, {"filter": "datum.k == 'min'"}],
   "mark": {"type": "tick", "orient": "horizontal", "color": "#E6E6E6", "thickness": 0.8, "size": 33.6, "opacity": 1},
   "encoding": {"y": {"field": "g", "type": "quantitative", "scale": {"domain": [-0.0463, 1.0463], "nice": false, "zero": false}, "axis": null}}},
  {"data": {"name": "grid"}, "transform": [{"flatten": ["yr"]}, {"flatten": ["g"]}, {"filter": "datum.k == 'maj'"}],
   "mark": {"type": "tick", "orient": "horizontal", "color": "#E3E3E3", "thickness": 1.4, "size": 33.6, "opacity": 1},
   "encoding": {"y": {"field": "g", "type": "quantitative", "scale": {"domain": [-0.0463, 1.0463], "nice": false, "zero": false}, "axis": null}}},
  {"data": {"name": "pts"}, "transform": [{"filter": "datum.f == 'M' && datum.s == 'M'"}],
   "mark": {"type": "rule", "strokeWidth": 1.7},
   "encoding": {"xOffset": {"field": "t", "type": "nominal", "scale": {"domain": ["R", "RM", "M"], "paddingOuter": 0.43, "paddingInner": 0}},
    "y": {"field": "l2", "type": "quantitative", "scale": {"domain": [-0.0463, 1.0463], "nice": false, "zero": false}, "axis": null}, "y2": {"field": "h2"},
    "color": {"field": "t", "type": "nominal", "scale": {"domain": ["R", "RM", "M"], "range": ["#9E1A1A", "#DB7A12", "#D9806B"]}, "legend": null}}},
  {"data": {"name": "pts"}, "transform": [{"filter": "datum.f == 'M' && datum.s == 'M'"}],
   "mark": {"type": "rule", "strokeWidth": 4.5},
   "encoding": {"xOffset": {"field": "t", "type": "nominal", "scale": {"domain": ["R", "RM", "M"], "paddingOuter": 0.43, "paddingInner": 0}},
    "y": {"field": "l1", "type": "quantitative", "scale": {"domain": [-0.0463, 1.0463], "nice": false, "zero": false}, "axis": null}, "y2": {"field": "h1"},
    "color": {"field": "t", "type": "nominal", "scale": {"domain": ["R", "RM", "M"], "range": ["#B22222", "#FF8C00", "#F08A76"]}, "legend": null}}},
  {"data": {"name": "pts"}, "transform": [{"filter": "datum.f == 'M' && datum.s == 'M'"}],
   "mark": {"type": "point", "filled": true, "opacity": 1, "strokeWidth": 0},
   "encoding": {"xOffset": {"field": "t", "type": "nominal", "scale": {"domain": ["R", "RM", "M"], "paddingOuter": 0.43, "paddingInner": 0}},
    "y": {"field": "e", "type": "quantitative", "scale": {"domain": [-0.0463, 1.0463], "nice": false, "zero": false}, "axis": null},
    "color": {"field": "t", "type": "nominal", "scale": {"domain": ["R", "RM", "M"], "range": ["#CD3700", "#FFA500", "#FA8072"]}, "legend": null},
    "shape": {"field": "t", "type": "nominal", "scale": {"domain": ["R", "RM", "M"], "range": ["circle", "triangle-up", "square"]}, "legend": null},
    "size": {"field": "t", "type": "nominal", "scale": {"domain": ["R", "RM", "M"], "range": [115, 170, 125]}, "legend": null}}}
 ],
 "resolve": {"scale": {"color": "independent"}}},

{"width": 26, "height": 307, "view": {"fill": "#D9D9D9", "stroke": null},
 "data": {"values": [{"lab": "Males"}]},
 "mark": {"type": "text", "angle": 90, "fontSize": 21, "color": "#1A1A1A", "align": "center", "baseline": "middle"},
 "encoding": {"text": {"field": "lab", "type": "nominal"}}}
]
}
